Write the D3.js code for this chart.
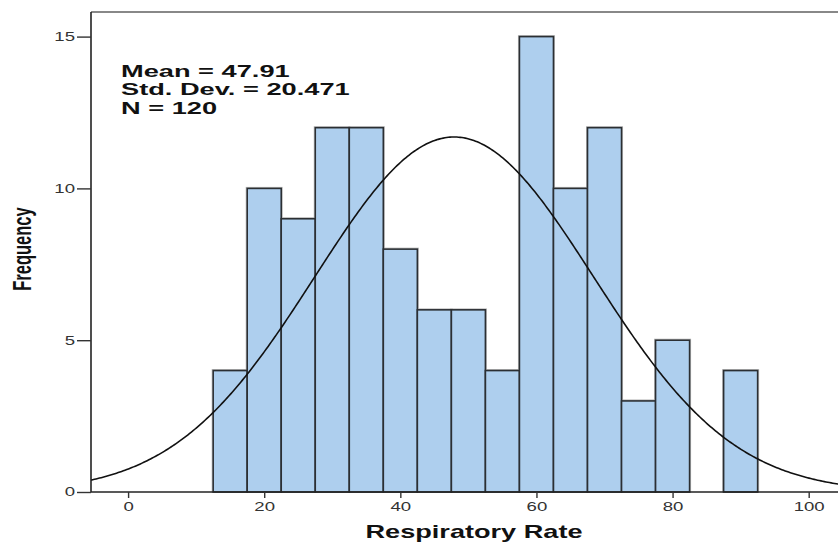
<!DOCTYPE html>
<html>
<head>
<meta charset="utf-8">
<script src="https://cdn.jsdelivr.net/npm/d3@7"></script>
<style>
  body { margin: 0; background: #fff; }
  svg { display: block; font-family: "Liberation Sans", Arial, sans-serif; }
</style>
</head>
<body>
<svg width="838" height="544"></svg>
<script>
// histogram bins (lower edge, count), width 5
const binStarts = [12.5, 17.5, 22.5, 27.5, 32.5, 37.5, 42.5, 47.5, 52.5, 57.5, 62.5, 67.5, 72.5, 77.5, 82.5, 87.5];
const binWidth = 5;
const counts = [4, 10, 9, 12, 12, 8, 6, 6, 4, 15, 10, 12, 3, 5, 0, 4];

const xTicks = [0, 20, 40, 60, 80, 100];
const yTicks = [0, 5, 10, 15];

const stats = { mean: 47.91, sd: 20.471, n: 120 };
const statLines = ['Mean = 47.91', 'Std. Dev. = 20.471', 'N = 120'];

// the source picture is stretched sideways, so text is too
const stretch = 1.55;

const svg = d3.select('svg');

const margin = { left: 91, top: 12, right: -2, bottom: 52 };
const width = 838 - margin.left - margin.right,
    height = 544 - margin.top - margin.bottom;

const x = d3.scaleLinear().domain([-5.45, 104.6]).range([0, width]);
const y = d3.scaleLinear().domain([0, 15.0]).range([height, 24.6]);

const g = svg.append('g').attr('transform', `translate(${margin.left},${margin.top})`);

// frame top
g.append('line')
    .attr('x1', 0).attr('x2', width)
    .attr('y1', 0).attr('y2', 0)
    .attr('stroke', '#888').attr('stroke-width', 2);

// bars
const bars = binStarts.map((s, i) => ({ x0: s, x1: s + binWidth, n: counts[i] })).filter(d => d.n > 0);

g.selectAll('rect.shadow')
  .data(bars)
  .enter().append('rect')
    .attr('x', d => x(d.x0) - 1)
    .attr('y', d => y(d.n) - 1)
    .attr('width', d => x(d.x1) - x(d.x0) + 2)
    .attr('height', d => y(0) - y(d.n) + 1)
    .attr('fill', 'none')
    .attr('stroke', '#bbb')
    .attr('stroke-width', 1);

g.selectAll('rect.bar')
  .data(bars)
  .enter().append('rect')
    .attr('class', 'bar')
    .attr('x', d => x(d.x0))
    .attr('y', d => y(d.n))
    .attr('width', d => x(d.x1) - x(d.x0))
    .attr('height', d => y(0) - y(d.n))
    .attr('fill', '#aecfee')
    .attr('stroke', '#2b2f33')
    .attr('stroke-width', 1.6);

// normal curve
const curveX = d3.range(-5.45, 104.61, 0.25);
const dens = v => stats.n * binWidth / (stats.sd * Math.sqrt(2 * Math.PI)) *
    Math.exp(-0.5 * Math.pow((v - stats.mean) / stats.sd, 2));
g.append('path')
    .datum(curveX)
    .attr('fill', 'none')
    .attr('stroke', '#111')
    .attr('stroke-width', 1.6)
    .attr('d', d3.line().x(d => x(d)).y(d => y(dens(d))));

// axes
const xAxis = g.append('g')
    .attr('transform', `translate(0,${height})`)
    .call(d3.axisBottom(x).tickValues(xTicks).tickSize(6).tickPadding(4));
const yAxis = g.append('g')
    .call(d3.axisLeft(y).tickValues(yTicks).tickSize(14).tickPadding(2));

[xAxis, yAxis].forEach(a => {
  a.select('.domain').attr('stroke', '#222').attr('stroke-width', 1.6);
  a.selectAll('.tick line').attr('stroke', '#333').attr('stroke-width', 1.4);
  a.selectAll('.tick text').attr('fill', '#333').style('font-size', '12px');
});
xAxis.select('.domain').attr('d', `M0,0H${width}`);
yAxis.select('.domain').attr('d', `M0,${height}V0`);

// stretch tick labels around their anchor
xAxis.selectAll('.tick text').attr('transform', `scale(${stretch},1)`);
yAxis.selectAll('.tick text')
    .attr('x', null)
    .attr('transform', `translate(-16,0) scale(${stretch},1)`);

// stats text
svg.append('g').selectAll('text')
  .data(statLines)
  .enter().append('text')
    .attr('transform', (d, i) => `translate(121,${76.5 + i * 18.6}) scale(1.65,1)`)
    .attr('fill', '#111')
    .style('font-size', '16.5px')
    .style('font-weight', 'bold')
    .text(d => d);

// axis titles
svg.append('text')
    .attr('transform', `translate(474,538) scale(${stretch},1)`)
    .attr('text-anchor', 'middle')
    .attr('fill', '#111')
    .style('font-size', '17.5px')
    .style('font-weight', 'bold')
    .text('Respiratory Rate');

svg.append('text')
    .attr('transform', `translate(31,249) scale(${stretch},1) rotate(-90)`)
    .attr('text-anchor', 'middle')
    .attr('fill', '#111')
    .style('font-size', '16.5px')
    .style('font-weight', 'bold')
    .text('Frequency');
</script>
</body>
</html>
